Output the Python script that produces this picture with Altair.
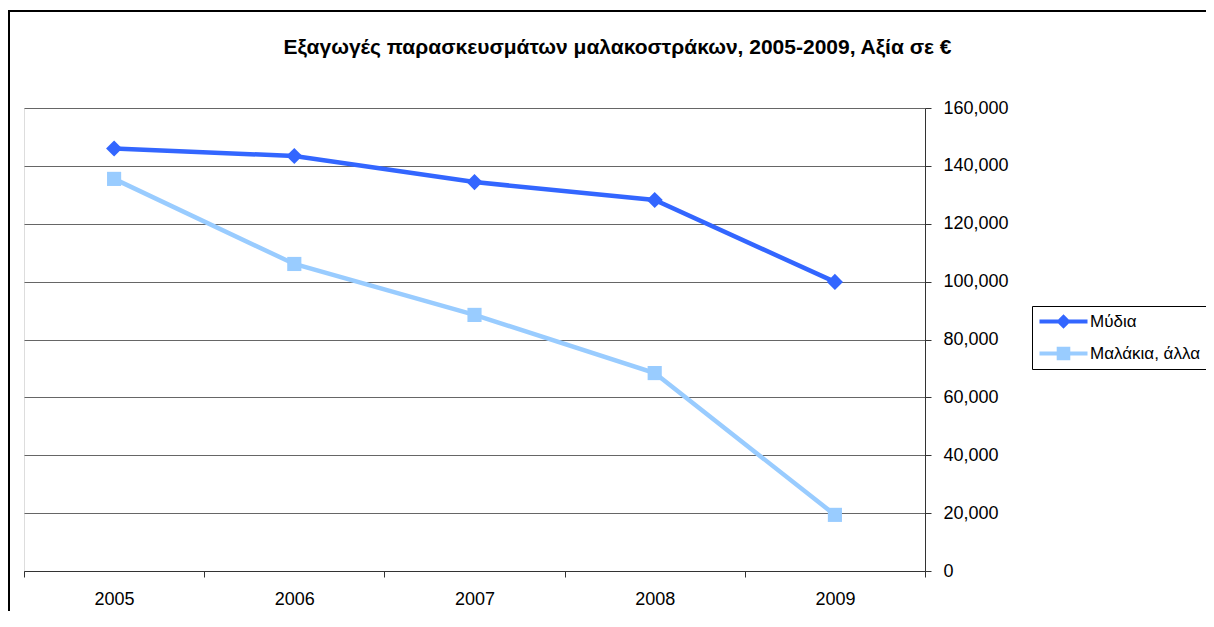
import altair as alt
import pandas as pd

years = ["2005", "2006", "2007", "2008", "2009"]
mydia = [146000, 143400, 134400, 128200, 99900]
malakia = [135500, 106100, 88500, 68400, 19400]
series = ["Μύδια", "Μαλάκια, άλλα"]
colors = ["#3366FF", "#99CCFF"]
y_ticks = [0, 20000, 40000, 60000, 80000, 100000, 120000, 140000, 160000]
title_text = "Εξαγωγές παρασκευσμάτων μαλακοστράκων, 2005-2009, Αξία σε €"

df = pd.DataFrame({
    "year": years * 2,
    "value": mydia + malakia,
    "series": [series[0]] * len(years) + [series[1]] * len(years),
})

W, H = 901, 463
FONT = "Liberation Sans"

xenc = alt.X(
    "year:N",
    bandPosition=0.5,
    scale=alt.Scale(type="band", paddingInner=0, paddingOuter=0),
    axis=alt.Axis(title=None, labelAngle=0, tickBand="extent", labelFontSize=18,
                  labelPadding=13, tickSize=6, domainColor="#333", tickColor="#333",
                  labelColor="#000", grid=False, labelFont=FONT),
)
yenc = alt.Y(
    "value:Q",
    scale=alt.Scale(domain=[0, 160000]),
    axis=alt.Axis(orient="right", title=None, values=y_ticks, format=",d",
                  labelFontSize=18, tickSize=6, labelPadding=12, gridColor="#666",
                  domainColor="#333", tickColor="#333", labelColor="#000",
                  labelFont=FONT),
)

base = alt.Chart(df)

line1 = base.transform_filter(alt.datum.series == series[0]).mark_line(
    strokeWidth=4.5, color=colors[0]).encode(x=xenc, y=yenc)
line2 = base.transform_filter(alt.datum.series == series[1]).mark_line(
    strokeWidth=4.5, color=colors[1]).encode(x=xenc, y=yenc)

pts1 = base.transform_filter(alt.datum.series == series[0]).mark_point(
    shape="diamond", filled=True, size=260, opacity=1, color=colors[0]
).encode(x=xenc, y=yenc)
pts2 = base.transform_filter(alt.datum.series == series[1]).mark_point(
    shape="square", filled=True, size=200, opacity=1, color=colors[1]
).encode(x=xenc, y=yenc)

# legend-only layer (no marks drawn), symbols = line + marker (unit = 8px)
sym_diamond = "M-1,-0.25 L5,-0.25 L5,0.25 L-1,0.25 Z M2,-0.9 L2.9,0 L2,0.9 L1.1,0 Z"
sym_square = "M-1,-0.25 L5,-0.25 L5,0.25 L-1,0.25 Z M1.15,-0.85 L2.85,-0.85 L2.85,0.85 L1.15,0.85 Z"
leg = dict(title=None, orient="none", legendX=1008, legendY=198,
           labelFontSize=17, labelFont=FONT, labelColor="#000",
           symbolSize=256, symbolStrokeWidth=0, labelOffset=34,
           strokeColor="#000", fillColor="#fff", padding=7, rowPadding=14)
legend_layer = base.transform_filter("false").mark_point(filled=True, opacity=1).encode(
    x=xenc, y=yenc,
    color=alt.Color("series:N", scale=alt.Scale(domain=series, range=colors),
                    legend=alt.Legend(**leg)),
    shape=alt.Shape("series:N", scale=alt.Scale(domain=series, range=[sym_diamond, sym_square]),
                    legend=alt.Legend(**leg)),
)

one = pd.DataFrame({"k": [0]})
frame = alt.Chart(one).mark_rect(fill=None, stroke="#000", strokeWidth=2).encode(
    x=alt.value(-15), x2=alt.value(1230), y=alt.value(-97), y2=alt.value(560)
)
title = alt.Chart(one).mark_text(
    text=title_text, font=FONT, fontSize=21, fontWeight="bold", color="#000",
    align="center", baseline="alphabetic"
).encode(x=alt.value(593.5), y=alt.value(-54))

chart = alt.layer(frame, title, line1, line2, pts1, pts2, legend_layer).properties(
    width=W, height=H,
    padding={"left": 16, "top": 100, "right": 281, "bottom": 40},
    autosize=alt.AutoSizeParams(type="none"),
).configure_view(stroke="#808080", strokeWidth=1).configure(background="#fff")

chart.save("out.html", embed_options={"renderer": "svg", "actions": False})
